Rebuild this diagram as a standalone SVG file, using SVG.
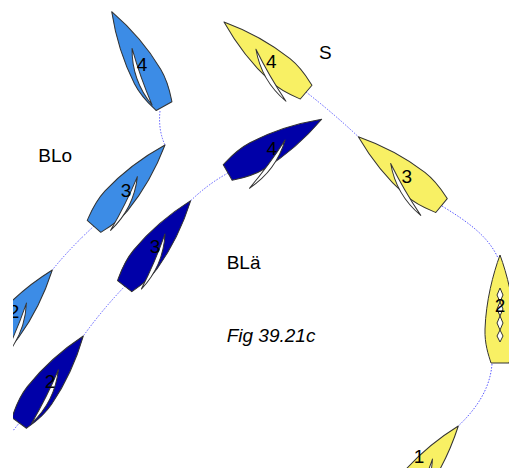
<svg xmlns="http://www.w3.org/2000/svg" width="509" height="468" viewBox="0 0 509 468">
  <defs>
    <!-- hull: bow at origin, transom 108 units aft along +y -->
    <path id="hull" d="M0,0 C7,19 14,46 15,74 C15.5,89 11.5,100 9,108 L-9,108 C-11.5,100 -15.5,89 -15,74 C-14,46 -7,19 0,0 Z"/>
    <!-- mainsail: mast at origin, boom end 60 units along +y -->
    <path id="sail" d="M0,0 Q-11,30 0,60 Q-2,30 0,0 Z"/>
    <clipPath id="frame"><rect x="13" y="0" width="496" height="468"/></clipPath>
  </defs>
  <style>
    .lb { fill: #3c8ce6; }
    .db { fill: #0000a8; }
    .ye { fill: #f8f064; }
    .hull { stroke: #333; stroke-width: 1; stroke-linejoin: round; }
    .sail { fill: #fff; stroke: #333; stroke-width: 1; stroke-linejoin: round; }
    .track { fill: none; stroke: #5a5aff; stroke-width: 1; stroke-dasharray: 1.5 1.5; }
    .num { font-family: "Liberation Sans", Arial, sans-serif; font-size: 19px; text-anchor: middle; fill: #000; }
    .lbl { font-family: "Liberation Sans", Arial, sans-serif; font-size: 19px; fill: #000; }
  </style>
  <rect width="509" height="468" fill="#fff"/>

  <g clip-path="url(#frame)">
    <!-- boat tracks -->
    <g id="tracks">
      <path class="track" d="M160,111 Q158,130 165,145"/>
      <path class="track" d="M94,226 Q70,248 52.3,270"/>
      <path class="track" d="M228,173 Q208,184 190.7,200.7"/>
      <path class="track" d="M125,286 Q102,310 83.3,336"/>
      <path class="track" d="M20,422 L8,437"/>
      <path class="track" d="M306,92 Q333,113 358.3,136.7"/>
      <path class="track" d="M442,206 C468,222 488,236 498,258"/>
      <path class="track" d="M492,364 C490,390 475,410 458.3,426"/>
    </g>

    <!-- light blue boat -->
    <g id="blo-4">
      <g transform="translate(111.7,11.7) rotate(-29)">
        <use href="#hull" class="hull lb"/>
        <use href="#sail" class="sail" transform="translate(0,42) rotate(9.5)"/>
      </g>
      <text class="num" x="142" y="70.7">4</text>
    </g>
    <g id="blo-3">
      <g transform="translate(165,145) rotate(41.1)">
        <use href="#hull" class="hull lb"/>
        <use href="#sail" class="sail" transform="translate(0,42) rotate(-14.6) scale(-1,1)"/>
      </g>
      <text class="num" x="126" y="196.7">3</text>
    </g>
    <g id="blo-2">
      <g transform="translate(52.3,270) rotate(38)">
        <use href="#hull" class="hull lb"/>
        <use href="#sail" class="sail" transform="translate(0,42) rotate(-15.4) scale(-1,1)"/>
      </g>
      <text class="num" x="14" y="318">2</text>
    </g>

    <!-- dark blue boat -->
    <g id="bla-4">
      <g transform="translate(321.7,119.3) rotate(60.5)">
        <use href="#hull" class="hull db"/>
        <use href="#sail" class="sail" transform="translate(0,42) rotate(-24) scale(-1,1)"/>
      </g>
      <text class="num" x="271.7" y="155">4</text>
    </g>
    <g id="bla-3">
      <g transform="translate(190.7,200.7) rotate(37.7)">
        <use href="#hull" class="hull db"/>
        <use href="#sail" class="sail" transform="translate(0,42) rotate(-14.5) scale(-1,1)"/>
      </g>
      <text class="num" x="155" y="253.3">3</text>
    </g>
    <g id="bla-2">
      <g transform="translate(83.3,336) rotate(36.4)">
        <use href="#hull" class="hull db"/>
        <use href="#sail" class="sail" transform="translate(0,42) rotate(-9.8) scale(-1,1)"/>
      </g>
      <text class="num" x="50" y="388.3">2</text>
    </g>

    <!-- yellow boat -->
    <g id="s-4">
      <g transform="translate(224,22) rotate(-49.5)">
        <use href="#hull" class="hull ye"/>
        <use href="#sail" class="sail" transform="translate(0,42) rotate(19.5)"/>
      </g>
      <text class="num" x="271.3" y="68.3">4</text>
    </g>
    <g id="s-3">
      <g transform="translate(358.3,136.7) rotate(-50.4)">
        <use href="#hull" class="hull ye"/>
        <use href="#sail" class="sail" transform="translate(0,42) rotate(20.3)"/>
      </g>
      <text class="num" x="406.7" y="182.7">3</text>
    </g>
    <g id="s-2">
      <g transform="translate(500,255)">
        <use href="#hull" class="hull ye"/>
      </g>
      <!-- luffing sail -->
      <path class="sail" d="M500,288 L503,295 L500,302 L503,309 L500,316 L503,323 L500,330 L503,336 L500,342 L497,336 L500,330 L497,323 L500,316 L497,309 L500,302 L497,295 Z"/>
      <text class="num" x="500" y="311.7">2</text>
    </g>
    <g id="s-1">
      <g transform="translate(458.3,426) rotate(38)">
        <use href="#hull" class="hull ye"/>
        <use href="#sail" class="sail" transform="translate(0,42) rotate(-15) scale(-1,1)"/>
      </g>
      <text class="num" x="419" y="463">1</text>
    </g>
  </g>

  <!-- labels -->
  <text class="lbl" x="319" y="59">S</text>
  <text class="lbl" x="38.3" y="161.7">BLo</text>
  <text class="lbl" x="226.7" y="269.3">BLä</text>
  <text class="lbl" x="226.7" y="341.7" font-style="italic">Fig 39.21c</text>
</svg>
